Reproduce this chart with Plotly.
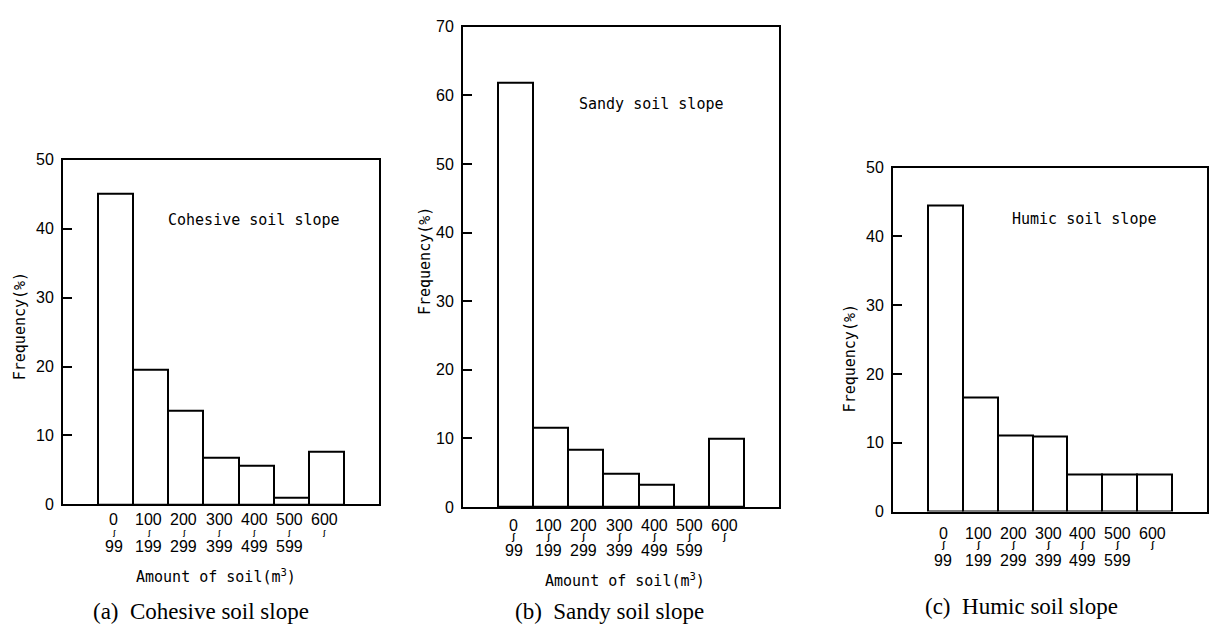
import plotly.graph_objects as go

W, H = 1209, 637

# ---- data ----
bins = ["0-99", "100-199", "200-299", "300-399", "400-499", "500-599", "600-"]
bin_low = ["0", "100", "200", "300", "400", "500", "600"]
bin_high = ["99", "199", "299", "399", "499", "599", ""]
cohesive = [45.0, 19.5, 13.6, 6.7, 5.6, 1.0, 7.6]
sandy = [61.9, 11.6, 8.3, 4.9, 3.2, 0.0, 9.9]
humic = [44.5, 16.6, 11.0, 10.9, 5.4, 5.4, 5.4]
ymax = [50, 70, 50]
panel_titles = ["Cohesive soil slope", "Sandy soil slope", "Humic soil slope"]
captions = ["(a)  Cohesive soil slope", "(b)  Sandy soil slope", "(c)  Humic soil slope"]

# ---- layout geometry (pixels) ----
boxes = [  # left, right, y of value 0, y of top value
    (63, 379, 510.0, 156.0),
    (463, 779, 512.8, 19.3),
    (893, 1207, 517.4, 164.0),
]
# pixel rows of the category labels: lower bound, "ʃ", upper bound, size of "ʃ"
label_rows = [(525.5, 539.5, 553.0, 7), (531.7, 544.0, 557.5, 9), (540.3, 551.5, 567.5, 9)]

MONO = "DejaVu Sans Mono"
SANS = "Liberation Sans"
SERIF = "Liberation Serif"

fig = go.Figure()
series = [cohesive, sandy, humic]
for i, vals in enumerate(series):
    n = "" if i == 0 else str(i + 1)
    fig.add_trace(go.Bar(
        x=list(range(len(bins))), y=vals, width=1.0,
        marker=dict(color="white", line=dict(color="black", width=2)),
        xaxis="x" + n, yaxis="y" + n, showlegend=False,
        hovertext=bins,
    ))

layout = dict(
    width=W, height=H, autosize=False,
    margin=dict(l=0, r=0, t=0, b=0),
    paper_bgcolor="white", plot_bgcolor="white",
    bargap=0,
)

annotations = []
for i, (l, r, y0, yt) in enumerate(boxes):
    n = "" if i == 0 else str(i + 1)
    layout["xaxis" + n] = dict(
        domain=[l / W, r / W], anchor="y" + n,
        range=[-1.5, 7.5],
        tickvals=list(range(len(bins))), showticklabels=False,
        ticks="", showline=True, linecolor="black", linewidth=2, mirror=True,
        showgrid=False, zeroline=False, fixedrange=True,
    )
    layout["yaxis" + n] = dict(
        domain=[1 - y0 / H, 1 - yt / H], anchor="x" + n,
        range=[0, ymax[i]], tickvals=list(range(0, ymax[i] + 1, 10)),
        tickfont=dict(family=SANS, size=16, color="black"),
        ticks="inside", ticklen=9, tickwidth=1.5, tickcolor="black",
        ticklabelstandoff=4,
        showline=True, linecolor="black", linewidth=2, mirror=True,
        showgrid=False, zeroline=False, fixedrange=True,
    )
    # category labels, placed at the category positions of the x axis
    r1, r2, r3, ts = label_rows[i]
    for k, (lo, hi) in enumerate(zip(bin_low, bin_high)):
        for txt, py, fs in ((lo, r1, 16), ("<b>ʃ</b>", r2, ts), (hi, r3, 16)):
            if not txt:
                continue
            annotations.append(dict(
                text=txt, x=k, xref="x" + n, y=1 - py / H, yref="paper",
                xanchor="center", yanchor="middle", showarrow=False,
                xshift=-2, borderpad=0,
                font=dict(family=SANS, size=fs, color="black"),
            ))

def ann(text, px, py, font, size, angle=0):
    annotations.append(dict(
        text=text, x=px / W, y=1 - py / H, xref="paper", yref="paper",
        xanchor="center", yanchor="middle", showarrow=False, textangle=angle,
        font=dict(family=font, size=size, color="black"),
    ))

# inner titles
ann(panel_titles[0], 254, 218, MONO, 15)
ann(panel_titles[1], 651, 99, MONO, 15)
ann(panel_titles[2], 1084, 217, MONO, 15)
# y titles
ann("Frequency(%)", 20, 327, MONO, 15, -90)
ann("Frequency(%)", 425, 260, MONO, 15, -90)
ann("Frequency(%)", 850, 360, MONO, 15, -90)
# x titles
ann("Amount of soil(m<sup>3</sup>)", 216, 584, MONO, 15)
ann("Amount of soil(m<sup>3</sup>)", 625, 588, MONO, 15)
# captions
ann(captions[0], 201, 620, SERIF, 23)
ann(captions[1], 609, 620, SERIF, 23)
ann(captions[2], 1021, 615, SERIF, 23)

layout["annotations"] = annotations
fig.update_layout(**layout)
fig.write_html("out.html")
